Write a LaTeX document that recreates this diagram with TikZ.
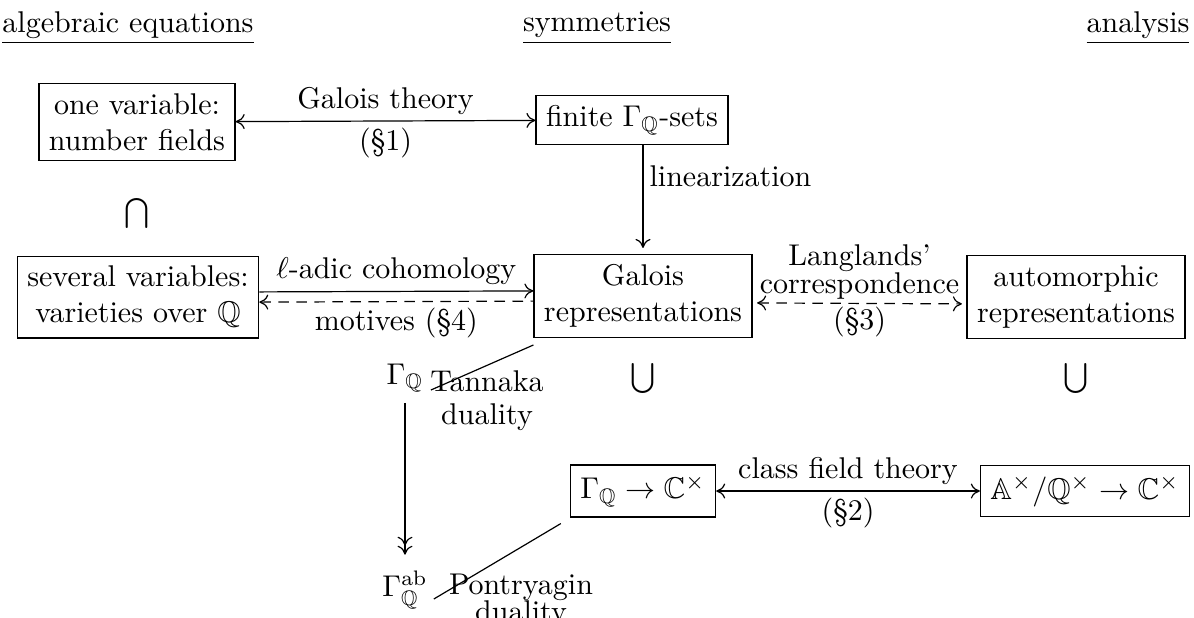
\documentclass[tikz,border=0pt]{standalone}
\usepackage{amsmath, amssymb}
\usetikzlibrary{arrows.meta}

\begin{document}
\begin{tikzpicture}[x=0.3333pt, y=-0.3333pt,
    >={Computer Modern Rightarrow[length=3pt, width=5pt]},
    box/.style={draw, align=center},
    lbl/.style={align=center, inner sep=2pt},
    dashes/.style={dash pattern=on 3.5pt off 2.5pt}]
  \useasboundingbox (0,0) rectangle (1194,617);
  % column headings
  \node (alg) at (128,28) {\underline{algebraic equations}};
  \node (sym) at (597,28) {\underline{symmetries}};
  \node (ana) at (1138,28) {\underline{analysis}};
  % one variable
  \node[box] (one) at (137,122) {one variable:\\number fields};
  \node[box] (fin) at (632,120) {finite $\Gamma_{\mathbb{Q}}$-sets};
  \draw[<->] (one) -- node[lbl, above] {Galois theory}
    node[lbl, below] {(\S1)} (fin);
  \node (cap) at (137,213) {$\bigcap$};
  % several variables
  \node[box] (sev) at (138,297) {several variables:\\varieties over $\mathbb{Q}$};
  \node[box] (rep) at (643,296) {Galois\\representations};
  \node[box] (aut) at (1076,297) {automorphic\\representations};
  \draw[->] (fin.south -| rep.north) -- node[lbl, right, pos=0.3] {linearization}
    ([yshift=2pt]rep.north);
  \draw[->] ([yshift=1.7pt]sev.east) -- node[lbl, above] {$\ell$-adic cohomology}
    ([yshift=1.7pt]rep.west);
  \draw[<-, dashes] ([yshift=-1.7pt]sev.east) -- node[lbl, below] {motives (\S4)}
    ([yshift=-1.7pt]rep.west);
  \draw[<->, dashes, shorten <=1.5pt, shorten >=1.5pt] ([yshift=-2.3pt]rep.east) --
    node[lbl, above, inner sep=1pt] {Langlands'\\[-2.5pt]correspondence}
    node[lbl, below, inner sep=1pt] {(\S3)} ([yshift=-2.3pt]aut.west);
  % Galois group side
  \node (gq) at (405,378) {$\Gamma_{\mathbb{Q}}$};
  \node (cupa) at (643,378) {$\bigcup$};
  \node (cupb) at (1076,378) {$\bigcup$};
  \node[lbl] (tan) at (487,401) {Tannaka\\[-1pt]duality};
  \draw ([shift={(-1pt,-4pt)}]gq.east) -- ([yshift=-2.3pt]rep.south west);
  \node[box] (chi) at (643,491) {$\Gamma_{\mathbb{Q}}\to\mathbb{C}^\times$};
  \node[box] (adl) at (1085,491) {$\mathbb{A}^\times/\mathbb{Q}^\times\to\mathbb{C}^\times$};
  \draw[<->] (chi) -- node[lbl, above] {class field theory}
    node[lbl, below] {(\S2)} (adl);
  \node (gab) at (405,590) {$\Gamma_{\mathbb{Q}}^{\mathrm{ab}}$};
  \draw[->>] (gq) -- ([yshift=2pt]gab.north);
  \node[lbl] (pon) at (521,601) {Pontryagin\\[-3pt]duality};
  \draw ([shift={(-1.5pt,-3pt)}]gab.east) -- ([shift={(-3pt,-2pt)}]chi.south west);
\end{tikzpicture}
\end{document}
